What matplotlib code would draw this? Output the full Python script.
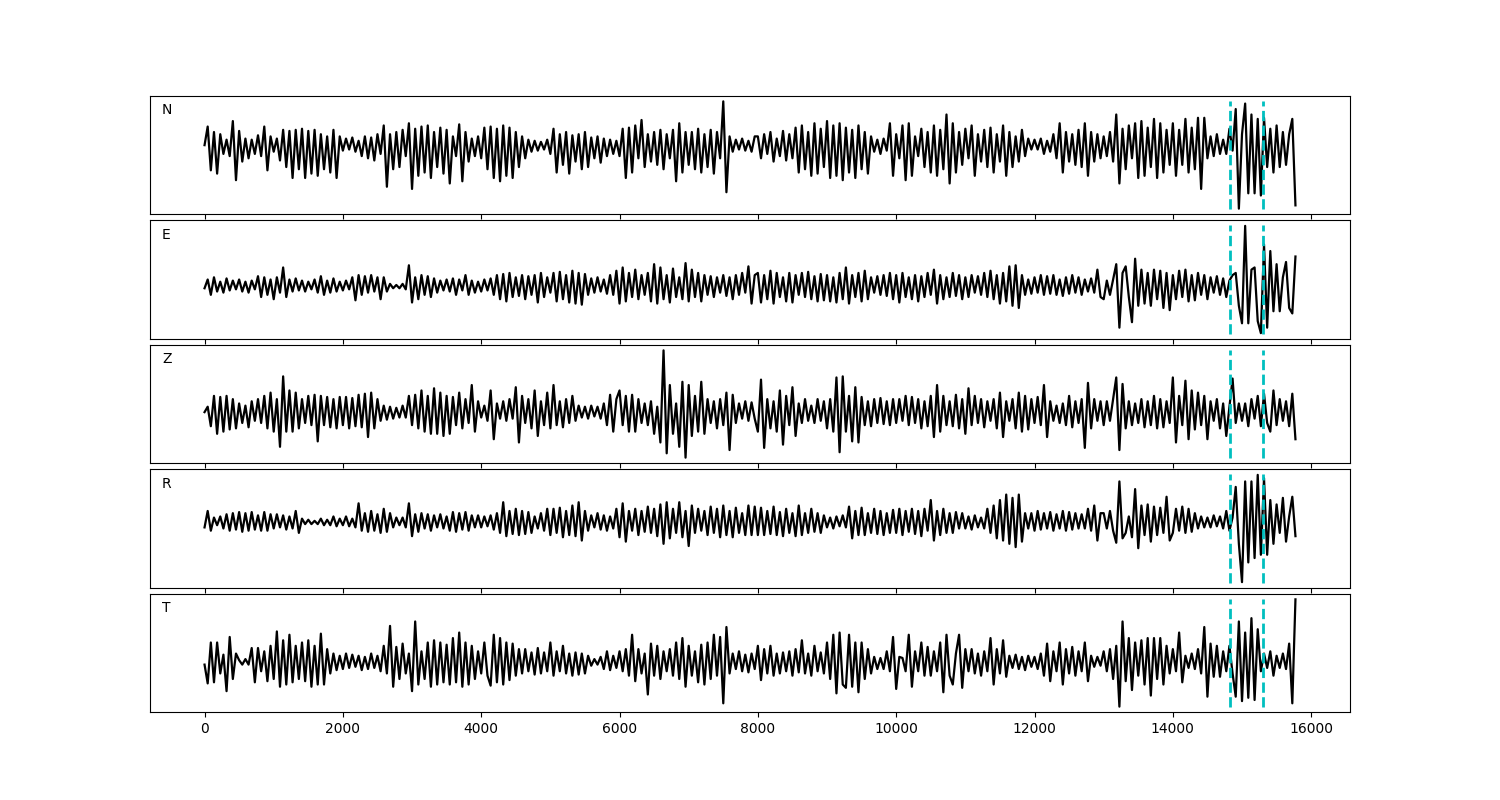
import numpy as np
import matplotlib
matplotlib.use("Agg")
import matplotlib.pyplot as plt

# Sample spacing along the x axis (data units per sample)
STEP = 1000 / 22
PICKS = [14820, 15310]
LABELS = ["N", "E", "Z", "R", "T"]

trace_N = [
    0, 17, -23, 12, -26, 10, -8, 5, -10, 22, -32, 13, -15, 6, -12, 5, -8, 9, -10, 17, -23, 8,
    -6, 6, -14, 14, -20, 13, -30, 14, -22, 15, -30, 13, -26, 14, -28, 10, -22, 8, -25, 14, -30, 8,
    -5, 6, -4, 7, -6, 4, -10, 8, -12, 7, -14, 10, -8, 18, -38, 10, -22, 12, -20, 14, -10, 20,
    -40, 15, -28, 17, -25, 18, -30, 12, -20, 16, -26, 14, -35, 8, -10, 19, -33, 12, -15, 6, -10, 8,
    -12, 16, -22, 17, -30, 15, -33, 18, -28, 16, -30, 12, -20, 8, -12, 5, -6, 4, -5, 3, -4, 5,
    -8, 15, -25, 10, -18, 12, -26, 9, -15, 10, -22, 12, -20, 7, -12, 8, -16, 6, -10, 5, -8, 4,
    -10, 15, -30, 16, -25, 18, -12, 23, -20, 10, -15, 12, -18, 14, -22, 10, -12, 14, -33, 20, -25, 12,
    -18, 12, -22, 15, -25, 10, -20, 14, -26, 12, -12, 40, -43, 8, -6, 5, -4, 6, -5, 4, -6, 8,
    8, -12, 10, -8, 12, -15, 6, -10, 13, -14, 10, -12, 16, -25, 18, -22, 12, -28, 20, -26, 15, -20,
    22, -30, 18, -28, 20, -32, 16, -25, 14, -30, 18, -22, 12, -26, 8, -6, 5, -8, 6, -5, 20, -28,
    10, -12, 18, -32, 20, -28, 8, -10, 15, -20, 12, -25, 18, -28, 14, -22, 28, -35, 20, -25, 12, -18,
    15, -12, 18, -28, 10, -15, 14, -20, 16, -25, 10, -15, 18, -28, 12, -20, 8, -15, 14, -10, 6, -4,
    5, -4, 6, -8, 4, -6, 10, -12, 20, -25, 12, -15, 10, -18, 14, -20, 20, -28, 12, -15, 10, -12,
    8, -10, 12, -15, 28, -35, 15, -22, 18, -12, 20, -30, 22, -28, 16, -20, 24, -30, 20, -25, 14, -18,
    20, -28, 14, -18, 24, -25, 16, -22, 25, -40, 25, -12, 8, -10, 10, -8, 5, -8, 15, -5, 33, -58,
    10, 38, -44, 28, -44, 24, -46, 25, -20, 15, -25, 18, -20, 12, -18, 10, 24, -55,
]

trace_E = [
    -2, 6, -8, 8, -5, 4, -6, 7, -4, 5, -3, 6, -5, 4, -6, 5, -3, 9, -10, 8, -8, 6,
    -12, 8, -6, 17, -10, 6, -5, 7, -4, 5, -5, 4, -3, 6, -6, 9, -8, 5, -6, 7, -5, 4,
    -4, 5, -3, 8, -13, 10, -8, 9, -6, 10, -5, 8, -12, 8, -5, 2, -2, 1, -2, 2, -3, 19,
    -15, 8, -12, 10, -8, 9, -10, 7, -6, 5, -4, 6, -5, 7, -8, 6, -4, 10, -8, 5, -6, 4,
    -5, 6, -4, 7, -8, 10, -12, 11, -14, 12, -10, 8, -9, 10, -12, 9, -8, 10, -15, 12, -10, 8,
    -6, 12, -14, 13, -12, 10, -15, 14, -16, 12, -17, 11, -8, 7, -6, 8, -5, 6, -7, 10, -8, 14,
    -16, 17, -14, 12, -10, 15, -12, 10, -8, 12, -14, 20, -16, 17, -12, 10, -15, 16, -10, 8, -12, 21,
    -14, 15, -10, 12, -14, 10, -8, 9, -10, 8, -6, 10, -9, 8, -12, 10, -8, 12, -6, 18, -16, 10,
    12, -15, 10, -12, 14, -16, 12, -10, 8, -14, 12, -15, 10, -8, 12, -10, 13, -12, 9, -14, 11, -13,
    10, -14, 8, -15, 12, -12, 17, -16, 10, -10, 12, -14, 14, -12, 8, -6, 9, -8, 10, -9, 12, -12,
    10, -15, 12, -10, 8, -12, 10, -14, 9, -10, 12, -8, 15, -16, 10, -12, 8, -10, 12, -9, 10, -12,
    8, -10, 10, -6, 9, -8, 12, -10, 14, -12, 10, -16, 12, -14, 18, -18, 19, -20, 10, -8, 6, -7,
    8, -6, 10, -8, 9, -7, 10, -8, 6, -9, 8, -7, 10, -6, 8, -8, 6, -5, 7, -6, 15, -10,
    -12, 5, -8, 6, 20, -38, 12, 18, -10, -33, 25, -18, 15, -16, 12, -18, 15, -12, 14, -20, 12, -22,
    10, -12, 14, -10, 15, -14, 10, -13, 12, -8, 10, -12, 8, -6, 9, -8, 7, -10, 5, 10, 12, -18,
    -34, 55, -34, 15, 17, -32, -43, 38, -38, 32, -23, 20, -23, 8, 22, -20, -25, 27,
]

trace_Z = [
    0, 5, -13, 15, -20, 14, -18, 15, -16, 12, -15, 8, -10, 6, -14, 10, -8, 12, -10, 15, -15, 18,
    -18, 12, -32, 33, -18, 20, -18, 18, -15, 12, -10, 15, -12, 16, -27, 15, -12, 14, -14, 12, -15, 14,
    -12, 14, -15, 13, -13, 16, -14, 17, -23, 18, -15, 12, -8, 6, -7, 5, -6, 4, -5, 6, -5, 15,
    -12, 16, -15, 20, -18, 15, -20, 22, -20, 18, -22, 15, -20, 14, -12, 18, -15, 12, -10, 25, -18, 10,
    -5, 6, -8, 20, -25, 8, -6, 10, -8, 12, -6, 23, -28, 15, -10, 12, -15, 20, -22, 10, -12, 18,
    -15, 25, -12, 10, -14, 12, -10, 15, -8, 6, -5, 5, -6, 6, -4, 5, -6, 8, -12, 16, -18, 12,
    20, -12, 15, -18, 16, -18, 12, -10, 8, -12, 10, -20, 5, -28, 57, -38, 25, -20, 8, -32, 28, -42,
    25, -22, 15, -18, 28, -20, 12, -10, 10, -15, 12, -12, 18, -35, 16, -10, 8, -6, 10, -8, 9, -6,
    -18, 30, -33, 12, -15, 10, -18, 20, -30, 15, -12, 23, -22, 8, -10, 12, -8, 6, -10, 12, -8, 10,
    -15, 12, -18, 32, -37, 33, -18, 15, -27, 23, -28, 14, -12, 10, -13, 12, -10, 13, -11, 10, -12, 12,
    -10, 12, -8, 15, -12, 14, -10, 12, -15, 10, -13, 15, -23, 25, -18, 15, -12, 10, -13, 16, -15, 12,
    -20, 22, -12, 15, -10, 12, -14, 10, -8, 12, -15, 18, -23, 10, -8, 12, -15, 18, -18, 15, -16, 12,
    -10, 14, -12, 25, -23, 10, -8, 6, -10, 8, -12, 15, -14, 10, -10, 12, -33, 27, -15, 12, -8, 10,
    -12, 10, -8, 12, 32, -35, 26, -15, 10, -12, 8, -10, 12, -14, 10, -12, 15, -15, 12, -14, 10, -10,
    32, -28, 15, -12, 29, -25, 20, -16, 18, -12, 15, -25, 10, -8, 12, -15, 8, -22, 5, 31, -10, 8,
    -8, 8, -13, 12, -6, 15, -13, 17, -10, -18, 20, -12, 12, -8, 10, -13, 17, -25,
]

trace_R = [
    -5, 10, -8, 4, -3, 5, -6, 7, -8, 8, -7, 9, -9, 8, -8, 9, -7, 6, -8, 9, -8, 7,
    -6, 7, -5, 6, -7, 5, -6, 10, -10, 3, -2, 2, -2, 1, -2, 3, -3, 2, -3, 5, -4, 3,
    -3, 5, -4, 3, -5, 17, -8, 8, -9, 10, -8, 7, -10, 12, -9, 8, -5, 4, -3, 4, -5, 17,
    -13, 7, -9, 8, -6, 7, -8, 6, -5, 7, -6, 5, -8, 9, -9, 8, -7, 9, -8, 6, -5, 6,
    -5, 5, -4, 6, -7, 8, -10, 18, -13, 10, -11, 12, -12, 10, -11, 9, -10, 5, -6, 8, -8, 12,
    -12, 12, -10, 13, -14, 10, -12, 15, -13, 18, -17, 10, -8, 6, -5, 8, -7, 6, -8, 5, -6, 12,
    -14, 17, -18, 10, -8, 12, -12, 10, -9, 14, -10, 12, -13, 16, -20, 18, -15, 12, -10, 18, -14, 10,
    -22, 15, -10, 12, -8, 10, -12, 14, -10, 12, -14, 15, -12, 10, -14, 13, -10, 8, -12, 15, -12, 14,
    -12, 13, -12, 10, -11, 14, -12, 9, -13, 12, -10, 8, -13, 15, -12, 8, -10, 12, -9, 8, -10, 6,
    -5, 4, -6, 5, -4, 6, -5, 14, -15, 10, -12, 13, -12, 8, -10, 12, -11, 10, -12, 8, -10, 11,
    -10, 12, -12, 10, -9, 12, -11, 10, -13, 12, -8, 20, -17, 10, -12, 12, -10, 8, -10, 9, -6, 8,
    -6, 5, -7, 6, -5, 4, -6, 12, -10, 15, -15, 20, -17, 25, -20, 22, -23, 25, -18, 8, -6, 8,
    -8, 10, -7, 8, -6, 9, -8, 7, -6, 10, -8, 9, -7, 8, -6, 7, -6, 12, -8, 15, -17, 8,
    8, -6, 10, -8, -19, 37, -15, -10, 5, -14, 30, -24, 15, -12, 16, -18, 14, -12, 13, -10, 23, -17,
    -10, 12, -8, 14, -10, 12, -9, 8, -6, 5, -5, 4, -5, 6, -4, 5, -6, 10, -8, 4, 32, -20,
    -55, 37, -37, 37, -33, 43, -30, 40, -30, 20, -20, 16, -10, 22, -18, 5, 23, -13,
]

trace_T = [
    -2, -19, 18, -18, 18, -10, 7, -26, 23, -15, 8, 2, -2, 3, -2, 13, -18, 13, -8, 10, -17, 15,
    -15, 28, -22, 20, -20, 25, -18, 15, -15, 18, -17, 20, -22, 15, -20, 26, -20, 12, -10, 8, -7, 6,
    -6, 8, -5, 7, -4, 6, -7, 5, -6, 8, -5, 6, -8, 15, -10, 33, -22, 14, -15, 17, -10, 8,
    -26, 37, -20, 10, -15, 18, -22, 20, -20, 18, -18, 16, -20, 22, -18, 27, -22, 18, -20, 15, -15, 10,
    -10, 18, -12, -21, 25, -18, 22, -20, 18, -16, 17, -12, 12, -10, 12, -8, 9, -11, 13, -10, 9, -8,
    18, -12, 10, -8, 15, -10, 8, -12, 9, -11, 8, -10, 6, -3, 3, -2, 5, -6, 10, -7, 6, -5,
    10, -8, 12, -12, 25, -17, 12, -10, 8, -29, 17, -12, 15, -15, 10, -8, 12, -12, 18, -15, 22, -22,
    15, -12, 10, -18, 16, -20, 18, -15, 25, -12, 23, -37, 32, -10, 8, -6, 10, -8, 7, -9, 8, -6,
    15, -16, 12, -10, 15, -12, 8, -10, 9, -8, 10, -12, 12, -9, 20, -10, 8, -12, 15, -8, 9, -10,
    18, -15, 25, -28, 27, -20, -23, 25, -22, 18, -27, 18, -15, 12, -10, 5, -6, 4, -6, 10, -8, 23,
    -24, 5, 4, -8, 25, -22, 10, -8, 18, -12, 14, -12, 10, -8, 18, -27, 25, -12, -20, 8, 25, -23,
    12, -8, 12, -10, 8, -12, 10, -8, 22, -20, 12, -10, 20, -13, 6, -5, 7, -6, 5, -7, 6, -4,
    5, -6, 8, -12, 17, -17, 10, -8, 18, -20, 12, -10, 14, -12, 10, -8, 18, -17, 6, -4, 5, -3,
    10, -8, 12, -15, 15, -40, 37, -17, 22, -25, 18, -12, 20, -20, 22, -30, 22, -15, 22, -20, 15, -10,
    12, -8, 27, -18, 6, -5, 8, -6, 12, -10, 32, -31, 17, -13, 15, -13, 10, -8, 15, -10, -31, 37,
    -35, 27, -32, 40, -34, 30, -8, 8, -5, 10, -12, 6, -5, 8, -6, 17, -37, 57,
]

traces = [trace_N, trace_E, trace_Z, trace_R, trace_T]

fig, axes = plt.subplots(5, 1, figsize=(15, 8), dpi=100, sharex=True)
fig.subplots_adjust(left=0.1, right=0.9, top=0.88, bottom=0.11, hspace=0.055)

for ax, label, tr in zip(axes, LABELS, traces):
    y = np.asarray(tr, dtype=float)
    x = np.arange(len(y)) * STEP
    ax.plot(x, y, color="black", lw=1.6)
    for p in PICKS:
        ax.axvline(p, ymin=0.04, ymax=0.96, color="c", ls="--", lw=2)
    ax.set_yticks([])
    ax.text(0.01, 0.94, label, transform=ax.transAxes, ha="left", va="top", fontsize=10)

fig.savefig("out.png", dpi=100)
